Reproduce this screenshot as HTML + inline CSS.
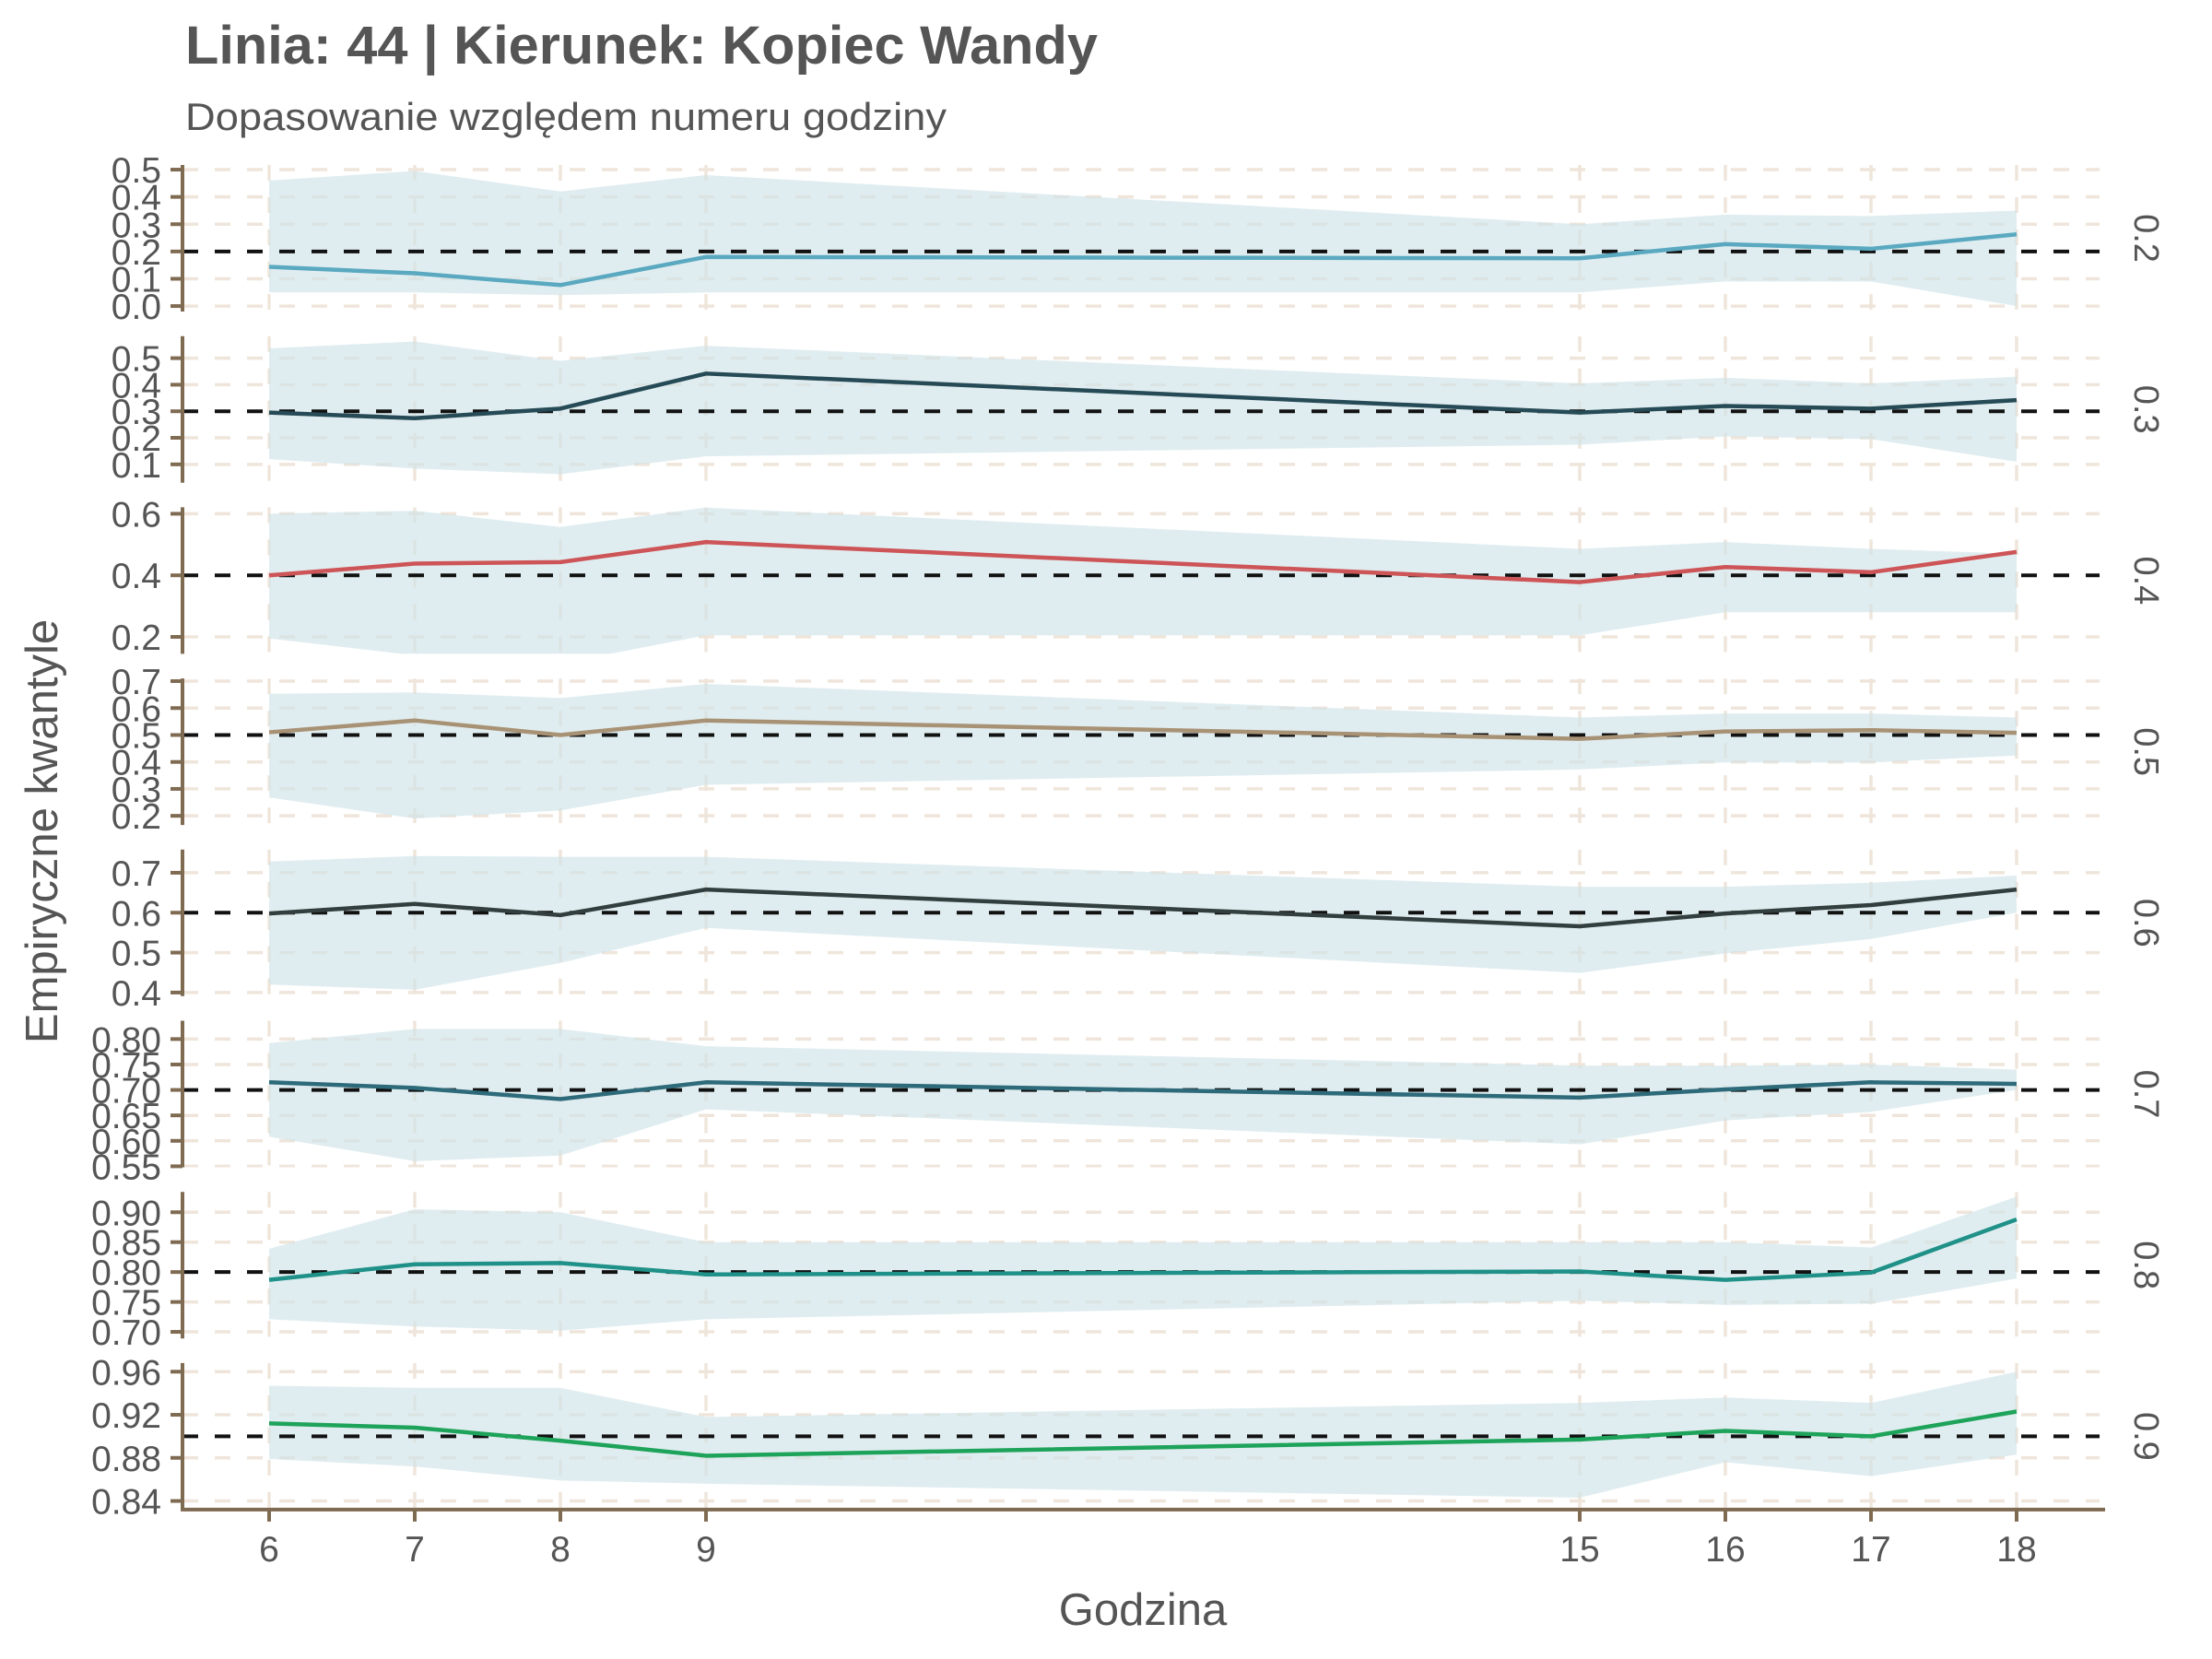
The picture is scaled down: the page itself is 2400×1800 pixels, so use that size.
<!DOCTYPE html>
<html><head><meta charset="utf-8"><style>
html,body{margin:0;padding:0;background:#fff}
svg{display:block}
text{font-family:"Liberation Sans",Arial,sans-serif;fill:#555}
</style></head><body>
<svg id="chart" width="2400" height="1800" viewBox="0 0 2400 1800" xmlns="http://www.w3.org/2000/svg">
<text x="201" y="69" font-size="58" font-weight="bold" textLength="990" lengthAdjust="spacingAndGlyphs">Linia: 44 | Kierunek: Kopiec Wandy</text>
<text x="201" y="141" font-size="42" textLength="826" lengthAdjust="spacingAndGlyphs">Dopasowanie względem numeru godziny</text>
<text transform="translate(62,902) rotate(-90)" text-anchor="middle" font-size="49">Empiryczne kwantyle</text>
<text x="1240" y="1763" text-anchor="middle" font-size="49">Godzina</text>
<g id="panels"></g>
</svg>
<script>
const hours = [6,7,8,9,15,16,17,18];
const quantiles = [0.2,0.3,0.4,0.5,0.6,0.7,0.8,0.9];
const q02 = [0.144,0.12,0.077,0.18,0.175,0.227,0.21,0.263];
const q02lo = [0.05,0.05,0.04,0.05,0.05,0.09,0.09,0.0];
const q02hi = [0.46,0.495,0.42,0.48,0.30,0.335,0.33,0.35];
const q03 = [0.295,0.274,0.31,0.442,0.295,0.32,0.31,0.342];
const q03lo = [0.12,0.084,0.063,0.13,0.174,0.205,0.195,0.11];
const q03hi = [0.537,0.563,0.49,0.547,0.405,0.426,0.405,0.43];
const q04 = [0.4,0.438,0.443,0.508,0.378,0.427,0.41,0.476];
const q04lo = [0.195,0.14,0.114,0.205,0.205,0.28,0.28,0.28];
const q04hi = [0.6,0.61,0.557,0.62,0.486,0.508,0.486,0.47];
const q05 = [0.51,0.554,0.5,0.554,0.486,0.513,0.518,0.508];
const q05lo = [0.268,0.19,0.22,0.315,0.372,0.398,0.398,0.424];
const q05hi = [0.653,0.658,0.637,0.69,0.565,0.58,0.58,0.565];
const q06 = [0.598,0.622,0.594,0.658,0.566,0.598,0.619,0.658];
const q06lo = [0.42,0.407,0.474,0.562,0.449,0.498,0.534,0.6];
const q06hi = [0.728,0.742,0.74,0.74,0.665,0.665,0.675,0.693];
const q07 = [0.715,0.704,0.682,0.715,0.685,0.701,0.715,0.712];
const q07lo = [0.608,0.56,0.571,0.662,0.593,0.64,0.657,0.70];
const q07hi = [0.792,0.82,0.82,0.786,0.748,0.748,0.75,0.74];
const q08 = [0.787,0.813,0.815,0.796,0.801,0.787,0.799,0.888];
const q08lo = [0.721,0.709,0.702,0.721,0.752,0.745,0.747,0.789];
const q08hi = [0.839,0.905,0.9,0.85,0.85,0.85,0.841,0.926];
const q09 = [0.912,0.908,0.896,0.882,0.897,0.905,0.90,0.923];
const q09lo = [0.879,0.872,0.859,0.856,0.843,0.876,0.863,0.883];
const q09hi = [0.947,0.945,0.945,0.918,0.931,0.936,0.931,0.96];
const yTicks = [
 ["0.0","0.1","0.2","0.3","0.4","0.5"],
 ["0.1","0.2","0.3","0.4","0.5"],
 ["0.2","0.4","0.6"],
 ["0.2","0.3","0.4","0.5","0.6","0.7"],
 ["0.4","0.5","0.6","0.7"],
 ["0.55","0.60","0.65","0.70","0.75","0.80"],
 ["0.70","0.75","0.80","0.85","0.90"],
 ["0.84","0.88","0.92","0.96"]
];
const yDomains = [[-0.02,0.517],[0.031,0.583],[0.145,0.621],[0.166,0.71],[0.391,0.758],[0.548,0.836],[0.689,0.934],[0.832,0.968]];
const lines = [q02,q03,q04,q05,q06,q07,q08,q09];
const lows = [q02lo,q03lo,q04lo,q05lo,q06lo,q07lo,q08lo,q09lo];
const highs = [q02hi,q03hi,q04hi,q05hi,q06hi,q07hi,q08hi,q09hi];
const colors = ["#5aa9c0","#264b56","#cd5457","#a89275","#333f3e","#2e6b7a","#1f9188","#1ea35a"];

const NS="http://www.w3.org/2000/svg";
const X0=198, X1=2284, PT0=179, PITCH=185.7, PH=159;
function xs(h){return 292+(h-6)*158;}
function mk(tag,attrs,parent){const e=document.createElementNS(NS,tag);for(const k in attrs)e.setAttribute(k,attrs[k]);parent.appendChild(e);return e;}
const root=document.getElementById('panels');
const defs=mk('defs',{},root);
quantiles.forEach((q,i)=>{
  const top=PT0+i*PITCH, bot=top+PH;
  const [lo,hi]=yDomains[i];
  const ys=v=>bot-(v-lo)/(hi-lo)*(bot-top);
  const cp=mk('clipPath',{id:'clip'+i},defs);
  mk('rect',{x:X0,y:top,width:X1-X0,height:PH},cp);
  const g=mk('g',{},root);
  
  
  const inner=mk('g',{'clip-path':'url(#clip'+i+')'},g);
  yTicks[i].forEach(t=>{
    const y=ys(parseFloat(t));
    const l=mk('line',{x1:X0,x2:X1-6,y1:y,y2:y,stroke:'#efe5db','stroke-width':3.5,'stroke-dasharray':'17 18'},inner);
    
    
  });
  hours.forEach(h=>{
    const l=mk('line',{x1:xs(h),x2:xs(h),y1:top,y2:bot,stroke:'#efe5db','stroke-width':3.5,'stroke-dasharray':'17 18'},inner);
    
    
  });
  let pts=hours.map((h,j)=>xs(h)+','+ys(highs[i][j]));
  pts=pts.concat(hours.slice().reverse().map((h,jj)=>{const j=hours.length-1-jj;return xs(h)+','+ys(lows[i][j]);}));
  const band=mk('polygon',{points:pts.join(' '),fill:'#cfe3e8','fill-opacity':0.65},inner);
  
  
  const ref=mk('line',{x1:X0,x2:X1-6,y1:ys(q),y2:ys(q),stroke:'#111','stroke-width':4,'stroke-dasharray':'17 18'},inner);
  
  
  const pl=mk('polyline',{points:hours.map((h,j)=>xs(h)+','+ys(lines[i][j])).join(' '),fill:'none',stroke:colors[i],'stroke-width':4.5,'stroke-linejoin':'round'},inner);
  
  
  const ax=mk('line',{x1:X0,x2:X0,y1:top,y2:bot,stroke:'#7f6a52','stroke-width':4},g);
  
  
  yTicks[i].forEach(t=>{
    const y=ys(parseFloat(t));
    const tk=mk('line',{x1:185,x2:X0,y1:y,y2:y,stroke:'#7f6a52','stroke-width':4},g);
    
    
    const tx=mk('text',{x:175,y:y+14,'text-anchor':'end','font-size':39},g);
    tx.textContent=t;
    
    
  });
  const st=mk('text',{transform:'translate(2316,'+((top+bot)/2)+') rotate(90)','text-anchor':'middle','font-size':38},g);
  st.textContent=String(q);
  
  
});
const xb=PT0+7*PITCH+PH;
const xa=mk('line',{x1:X0-2,x2:X1,y1:xb,y2:xb,stroke:'#7f6a52','stroke-width':4},root);


hours.forEach(h=>{
  const tk=mk('line',{x1:xs(h),x2:xs(h),y1:xb,y2:xb+13,stroke:'#7f6a52','stroke-width':4},root);
  
  
  const tx=mk('text',{x:xs(h),y:xb+56,'text-anchor':'middle','font-size':39},root);
  tx.textContent=String(h);
  
  
});
</script>
</body></html>
